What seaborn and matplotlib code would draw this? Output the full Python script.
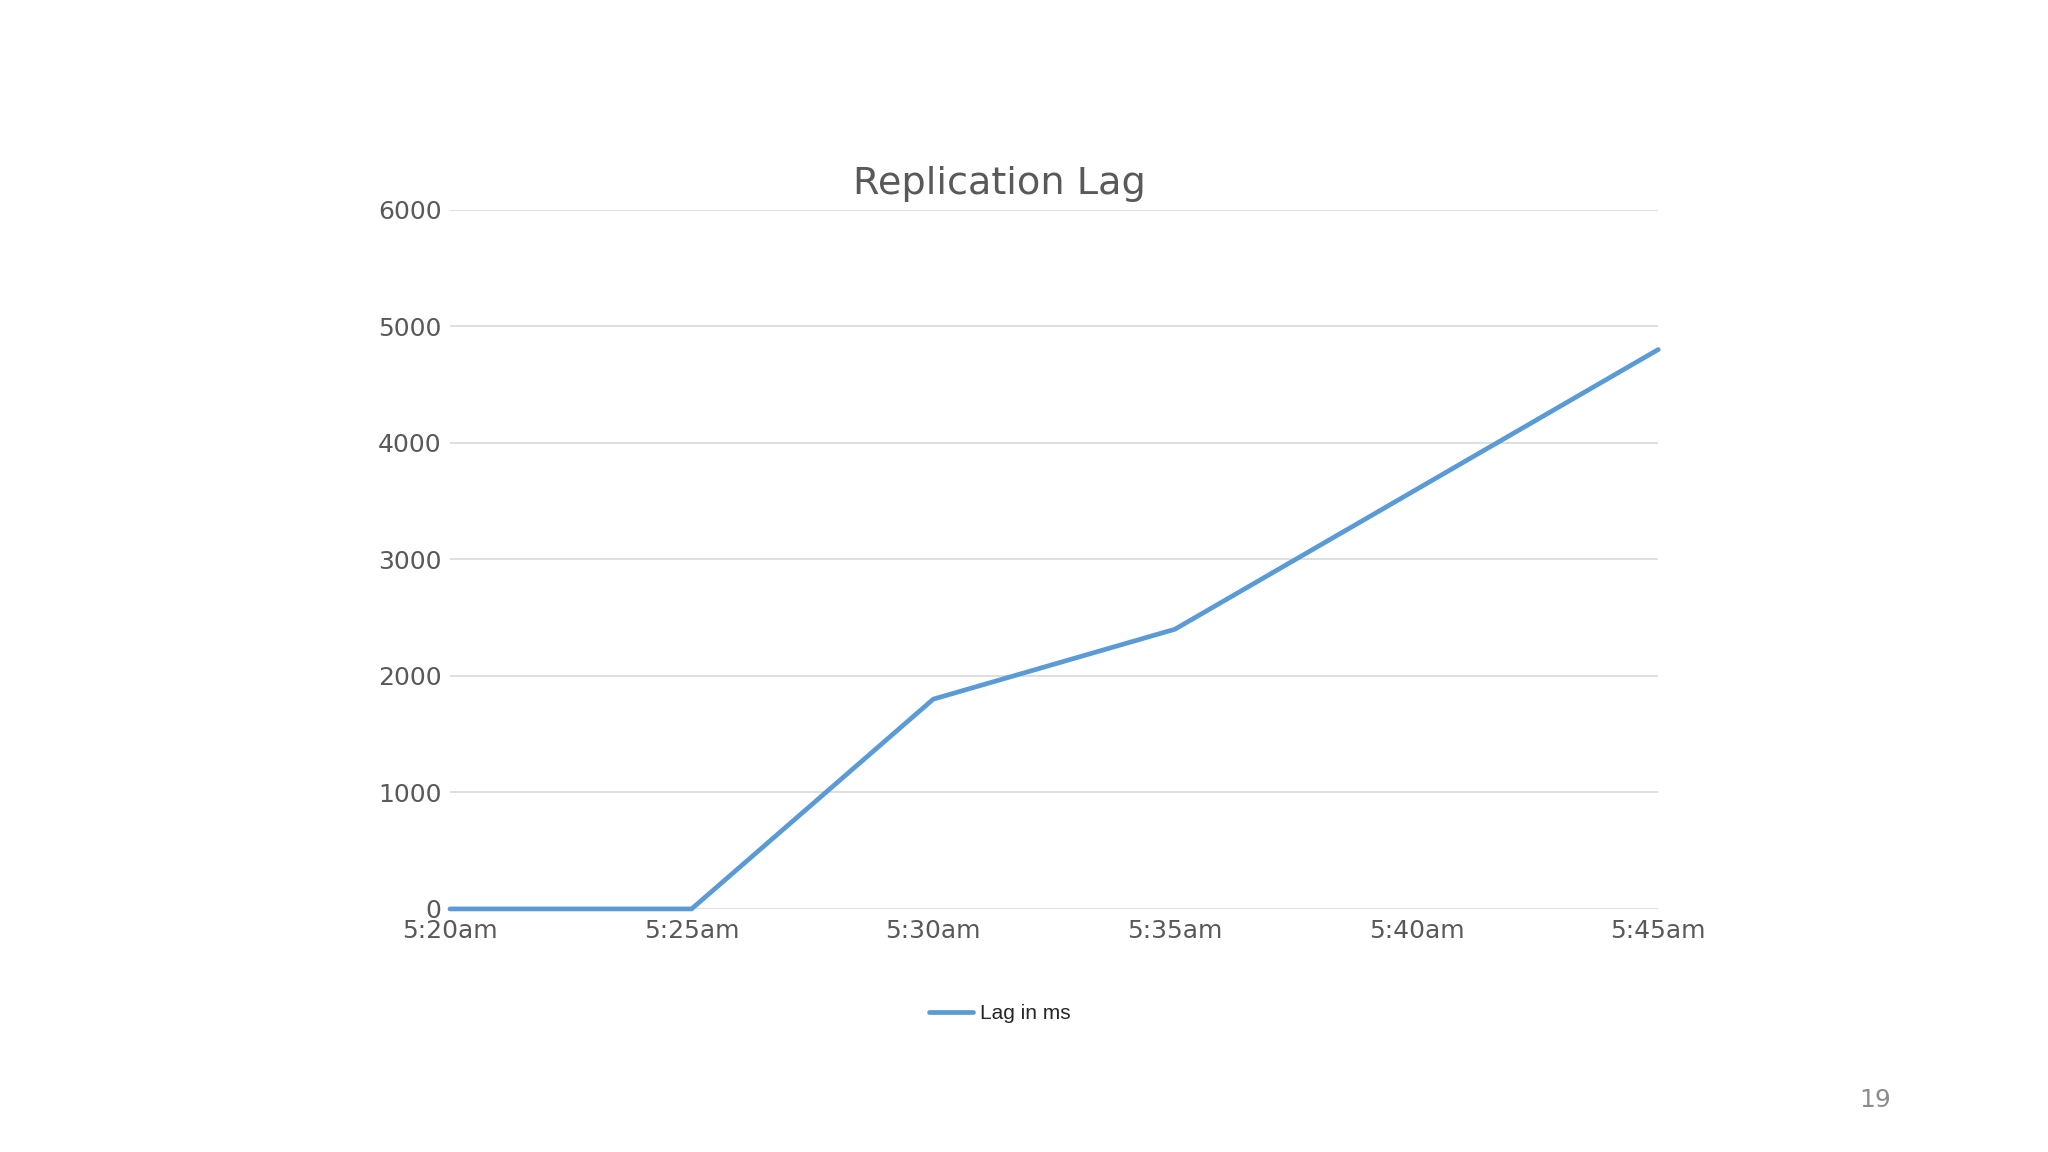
import numpy as np
import pandas as pd
import matplotlib.pyplot as plt
import seaborn as sns

sns.set_theme(style="white")
plt.rcParams['font.family'] = ['DejaVu Sans']

times = ['5:20am', '5:25am', '5:30am', '5:35am', '5:40am', '5:45am']
lag_ms = [0, 0, 1800, 2400, 3600, 4800]
y_ticks = [0, 1000, 2000, 3000, 4000, 5000, 6000]

df = pd.DataFrame({'pos': np.arange(len(times)), 'lag': lag_ms})

text_grey = '#595959'
line_blue = '#5B9BD5'

fig = plt.figure(figsize=(20.48, 11.52), dpi=100)
ax = fig.add_axes([0.2197, 0.211, 0.590, 0.607])

sns.lineplot(data=df, x='pos', y='lag', ax=ax, color=line_blue,
             linewidth=3.4, label='Lag in ms', clip_on=False, zorder=3)

ax.set_xlim(0, len(times) - 1)
ax.set_ylim(0, 6000)
ax.set_xticks(df['pos'])
ax.set_xticklabels(times)
ax.set_yticks(y_ticks)
ax.set_xlabel('')
ax.set_ylabel('')

ax.tick_params(axis='both', length=0, labelsize=18, labelcolor=text_grey)
ax.tick_params(axis='y', pad=6)
ax.tick_params(axis='x', pad=7.5)

ax.yaxis.grid(True, color='#D9D9D9', linewidth=1.2)
ax.xaxis.grid(False)
ax.set_axisbelow(True)
sns.despine(ax=ax, left=True, bottom=True)

fig.text(0.488, 0.840, 'Replication Lag', ha='center', va='center',
         fontsize=27.5, color=text_grey)

ax.legend(loc='center', bbox_to_anchor=(0.488, 0.120),
          bbox_transform=fig.transFigure, frameon=False,
          handlelength=2.15, handletextpad=0.3,
          prop={'family': 'Liberation Sans', 'size': 15})

fig.text(0.9155, 0.045, '19', ha='center', va='center',
         fontsize=18, color='#8C8C8C')

fig.savefig('out.png', dpi=100, facecolor='white')
